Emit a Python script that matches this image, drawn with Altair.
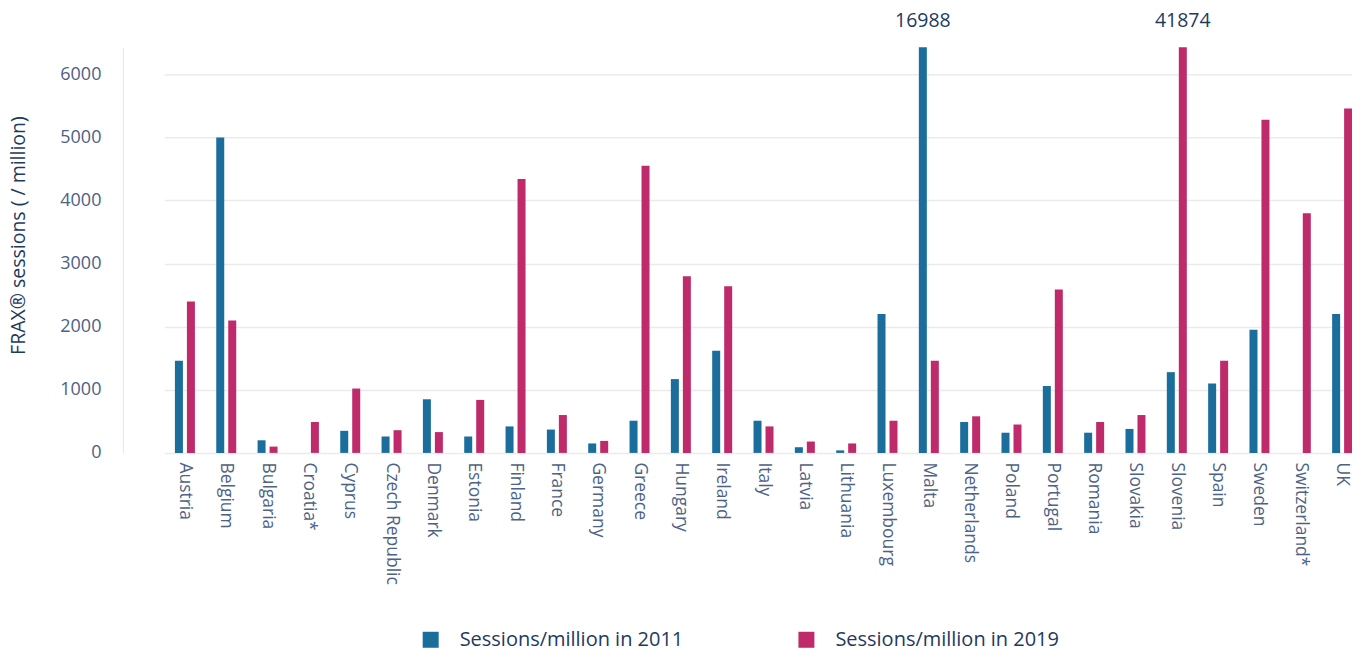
import altair as alt
import pandas as pd

countries = ["Austria", "Belgium", "Bulgaria", "Croatia*", "Cyprus", "Czech Republic",
             "Denmark", "Estonia", "Finland", "France", "Germany", "Greece", "Hungary",
             "Ireland", "Italy", "Latvia", "Lithuania", "Luxembourg", "Malta",
             "Netherlands", "Poland", "Portugal", "Romania", "Slovakia", "Slovenia",
             "Spain", "Sweden", "Switzerland*", "UK"]
s2011 = [1460, 5000, 200, None, 350, 260, 850, 260, 420, 370, 150, 510, 1170,
         1620, 510, 90, 40, 2200, 16988, 490, 320, 1060, 320, 380, 1280,
         1100, 1950, None, 2200]
s2019 = [2400, 2100, 100, 490, 1020, 360, 330, 840, 4340, 600, 190, 4550, 2800,
         2640, 420, 180, 150, 510, 1460, 580, 450, 2590, 490, 600, 41874,
         1460, 5280, 3800, 5460]
series_names = ["Sessions/million in 2011", "Sessions/million in 2019"]
colors = ["#1b6d9c", "#be2a6a"]
y_max = 6430

rows = []
for c, a, b in zip(countries, s2011, s2019):
    if a is not None:
        rows.append({"country": c, "series": series_names[0], "value": a})
    if b is not None:
        rows.append({"country": c, "series": series_names[1], "value": b})
df = pd.DataFrame(rows)

W = 1230
H = 406
step = 41.36
x0 = step

FONT = "Open Sans"
label_col = "#4d6284"
dark = "#1e3a5f"

x_enc = alt.X("country:N", sort=countries,
              scale=alt.Scale(domain=countries, range=[x0, x0 + step * len(countries)],
                              paddingInner=0, paddingOuter=0),
              axis=alt.Axis(title=None, labelAngle=90, labelAlign="left", labelBaseline="middle",
                            labelPadding=9, ticks=False, domain=False, labelLimit=0,
                            labelFont=FONT, labelFontSize=17.5,
                            labelColor=label_col))
xo_enc = alt.XOffset("series:N",
                     scale=alt.Scale(domain=series_names, paddingInner=0.333, paddingOuter=0.89))
y_scale = alt.Scale(domain=[0, y_max], clamp=True, nice=False)

bars = alt.Chart(df).mark_bar().encode(
    x=x_enc,
    xOffset=xo_enc,
    y=alt.Y("value:Q", scale=y_scale,
            axis=alt.Axis(title="FRAX® sessions ( / million)", values=[0, 1000, 2000, 3000, 4000, 5000, 6000],
                          format="d", ticks=False, domain=True, domainColor="#e6e6e6",
                          gridColor="#ebebeb", gridWidth=1.5,
                          labelFont=FONT, labelFontSize=18, labelColor=label_col, labelPadding=22,
                          titleFont=FONT, titleFontSize=19.5, titleFontWeight="normal", titleColor=dark,
                          titleX=-94, titleY=188, titleBaseline="bottom", titleAlign="center")),
    color=alt.Color("series:N", scale=alt.Scale(domain=series_names, range=colors),
                    legend=alt.Legend(title=None, orient="none", legendX=298, legendY=583,
                                      direction="horizontal", symbolType="square",
                                      symbolSize=256, symbolStrokeWidth=0, labelLimit=0,
                                      labelFont=FONT, labelFontSize=20, labelColor=dark,
                                      labelOffset=19, columnPadding=113)),
)

texts = alt.Chart(df).transform_filter(
    alt.datum.value > y_max
).mark_text(font=FONT, fontSize=19.5, color=dark, dy=-26, baseline="middle").encode(
    x=alt.X("country:N", sort=countries),
    xOffset=alt.XOffset("series:N"),
    y=alt.Y("value:Q"),
    text=alt.Text("value:Q", format="d"),
)

chart = alt.layer(bars, texts).properties(
    width=W, height=H,
    autosize=alt.AutoSizeParams(type="none"),
    padding={"left": 115, "top": 39, "right": 0, "bottom": 197},
).configure_view(stroke=None).configure_axisX(grid=False)

chart.save("out.html", embed_options={"renderer": "svg", "actions": False})
